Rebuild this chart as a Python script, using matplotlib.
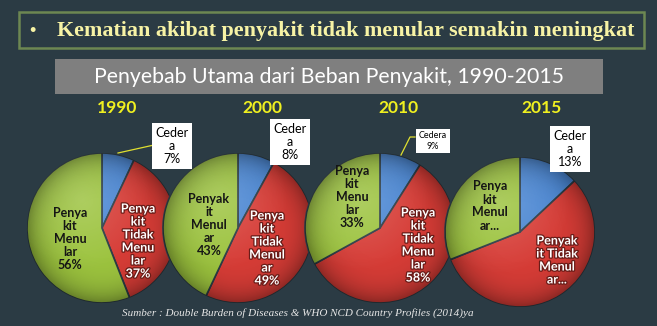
import matplotlib.pyplot as plt
import matplotlib.patches as mpatches
import matplotlib.patheffects as pe
import numpy as np

W, H = 657, 326

years = ['1990', '2000', '2010', '2015']
cedera = [7, 8, 9, 13]
tidak_menular = [37, 49, 58, 56]
menular = [56, 43, 33, 31]

cedera_labels = ['Ceder\na\n7%', 'Ceder\na\n8%', 'Cedera\n9%', 'Ceder\na\n13%']
tm_labels = ['Penya\nkit\nTidak\nMenu\nlar\n37%', 'Penya\nkit\nTidak\nMenul\nar\n49%',
             'Penya\nkit\nTidak\nMenu\nlar\n58%', 'Penyak\nit Tidak\nMenul\nar...']
m_labels = ['Penya\nkit\nMenu\nlar\n56%', 'Penyak\nit\nMenul\nar\n43%',
            'Penya\nkit\nMenu\nlar\n33%', 'Penya\nkit\nMenul\nar...']

BG = '#2b3b44'
C_BLUE, C_RED, C_GREEN = '#4a86d2', '#d63c36', '#9cc33e'

# layout in pixels (y measured from top)
centers = [(102, 228), (238, 228), (380, 228), (520, 232)]
radius = 75
year_x = [117, 262, 398, 541]
m_pos = [(70, 239), (209, 225), (352, 197), (490, 206)]
tm_pos = [(138, 241), (267, 248), (418, 245), (557, 260)]
ced_pos = [(172, 146), (290, 142), (433, 141), (570, 149)]


def Y(y):
    return H - y


# radial shading used to give the pies a rounded look
g = np.linspace(-1, 1, 200)
gx, gy = np.meshgrid(g, g)
rr = np.clip(np.hypot(gx, gy), 0, 1)
shade = np.zeros((200, 200, 4))
shade[..., 3] = 0.45 * rr ** 5
hl = np.clip(1 - np.hypot(gx + 0.25, gy - 0.35) / 0.9, 0, 1)
light = np.ones((200, 200, 4))
light[..., 3] = 0.18 * hl

fig = plt.figure(figsize=(W / 100, H / 100), dpi=100)
fig.patch.set_facecolor(BG)
ax = fig.add_axes([0, 0, 1, 1])
ax.set_facecolor(BG)

# header box
ax.add_patch(mpatches.Rectangle((19, Y(48)), 625, 36, fill=False, ec='#6d8752', lw=1.8))
ax.text(32, Y(31), '•', color='#f7f3a5', fontsize=13, ha='center', va='center',
        family='Liberation Serif', fontweight='bold')
ax.text(57, Y(31), 'Kematian akibat penyakit tidak menular semakin meningkat',
        color='#f7f3a5', fontsize=15.8, ha='left', va='center',
        family='Liberation Serif', fontweight='bold')

# title bar
ax.add_patch(mpatches.Rectangle((55, Y(94)), 548, 35, color='#7f7f7f', lw=0))
ax.text(329, Y(77), 'Penyebab Utama dari Beban Penyakit, 1990-2015', color='white',
        fontsize=15.3, ha='center', va='center', family='Lato')

for i in range(4):
    cx, cy = centers[i]
    z = 2 + 2 * i
    wedges, _ = ax.pie([cedera[i], tidak_menular[i], menular[i]],
                       colors=[C_BLUE, C_RED, C_GREEN],
                       startangle=90, counterclock=False, center=(cx, Y(cy)),
                       radius=radius, explode=[0, 0.03, 0.03],
                       wedgeprops=dict(edgecolor=BG, linewidth=1.2, zorder=z))
    ext = [cx - radius * 1.05, cx + radius * 1.05, Y(cy) - radius * 1.05, Y(cy) + radius * 1.05]
    for w in wedges:
        for img in (shade, light):
            im = ax.imshow(img, extent=ext, origin='lower', aspect='auto',
                           zorder=z + 0.5, interpolation='bilinear')
            im.set_clip_path(w)
    ax.text(year_x[i], Y(108), years[i], color='#f0f020', fontsize=12.5,
            fontweight='bold', ha='center', va='center', family='Lato', zorder=20)
    ax.text(m_pos[i][0], Y(m_pos[i][1]), m_labels[i], color='#151515', fontsize=9,
            fontweight='bold', ha='center', va='center', family='Lato',
            linespacing=1.1, zorder=20)
    ax.text(tm_pos[i][0], Y(tm_pos[i][1]), tm_labels[i], color='white', fontsize=9,
            fontweight='bold', ha='center', va='center', family='Lato',
            linespacing=1.1, zorder=20,
            path_effects=[pe.withStroke(linewidth=1.8, foreground='#6a1c18')])
    small = i == 2
    ax.text(ced_pos[i][0], Y(ced_pos[i][1]), cedera_labels[i], color='black',
            fontsize=6.5 if small else 9, ha='center', va='center', family='Lato',
            linespacing=1.2 if small else 1.1, zorder=21,
            bbox=dict(boxstyle='square,pad=0.3', fc='white', ec='none'))

# leader lines
ax.plot([118, 154], [Y(153), Y(145)], color='#e0e030', lw=0.9, zorder=19)
ax.plot([401, 410, 415], [Y(155), Y(137), Y(137)], color='#e0e030', lw=0.9, zorder=19)

ax.text(122, Y(313), 'Sumber : Double Burden of Diseases & WHO NCD Country Profiles (2014)ya',
        color='#e6e6e6', fontsize=8, style='italic', ha='left', va='center',
        family='Liberation Serif', zorder=20)

ax.set_xlim(0, W)
ax.set_ylim(0, H)
ax.set_aspect('auto')
ax.axis('off')

fig.savefig('out.png', dpi=100, facecolor=BG)
